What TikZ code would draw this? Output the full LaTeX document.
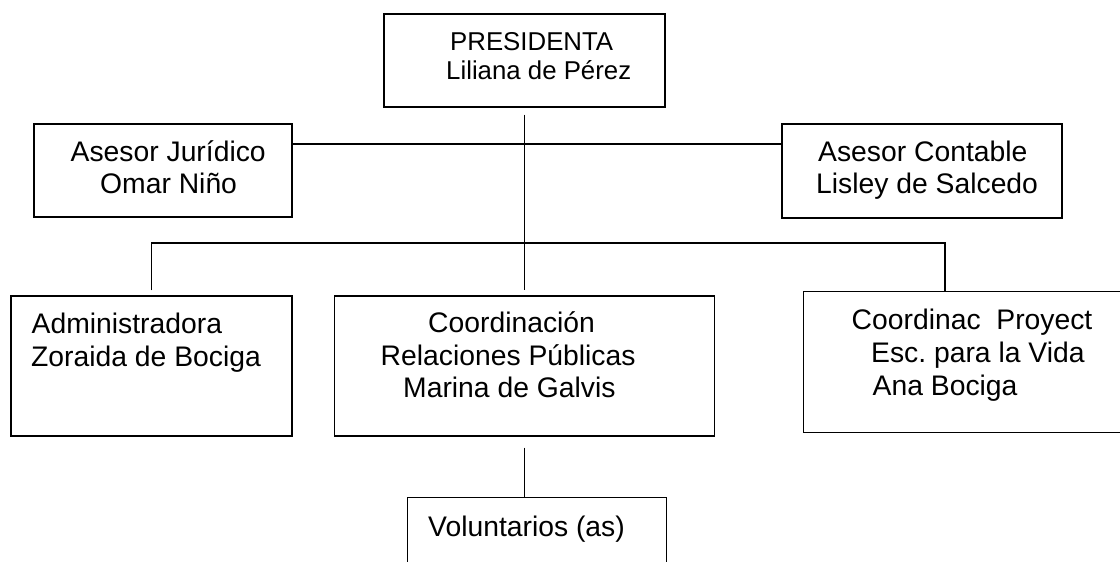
\documentclass[tikz,border=0pt]{standalone}
\usepackage{fontspec}
\setmainfont{Liberation Sans}
\frenchspacing
\newcommand{\mainsz}{\fontsize{28.3}{32.5}\selectfont}
\newcommand{\topsz}{\fontsize{25.8}{29}\selectfont}
\tikzset{
  orgbox/.style={draw, line width=1.3pt, rectangle, inner sep=0pt},
  openbox/.style={draw=none, rectangle, inner sep=0pt},
  txt/.style={anchor=base west, inner sep=0pt, font=\mainsz},
  toptxt/.style={anchor=base west, inner sep=0pt, font=\topsz},
  link/.style={line width=1.3pt}
}
\begin{document}
\begin{tikzpicture}[x=1pt, y=-1pt]
\useasboundingbox (0,0) rectangle (1120,562);

% boxes
\node[orgbox, minimum width=281pt, minimum height=93pt] (pres) at (524.5,60.5) {};
\node[orgbox, minimum width=258pt, minimum height=93pt] (ajur) at (163,170.5) {};
\node[orgbox, minimum width=280pt, minimum height=94pt] (acont) at (922,171) {};
\node[orgbox, minimum width=281pt, minimum height=140pt] (admin) at (151.5,366) {};
\node[orgbox, minimum width=380pt, minimum height=140pt] (coord) at (524.5,366) {};
\node[openbox, minimum width=326pt, minimum height=140pt] (proy) at (967,362) {};
\draw[link] (proy.north east) -- (proy.north west) -- (proy.south west) -- (proy.south east);
\node[openbox, minimum width=258pt, minimum height=72pt] (vol) at (537,534) {};
\draw[link] (vol.south west) -- (vol.north west) -- (vol.north east) -- (vol.south east);

% texts
\node[toptxt] (t1) at (450,50) {PRESIDENTA};
\node[toptxt] (t2) at (446,79) {Liliana de Pérez};
\node[txt] (t3) at (70.5,161) {Asesor Jurídico};
\node[txt] (t4) at (100,193) {Omar Niño};
\node[txt] (t5) at (818,161) {Asesor Contable};
\node[txt] (t6) at (816,193) {Lisley de Salcedo};
\node[txt] (t7) at (31.5,333) {Administradora};
\node[txt] (t8) at (31,366) {Zoraida de Bociga};
\node[txt] (t9) at (428,332) {Coordinación};
\node[txt] (t10) at (380.5,365) {Relaciones Públicas};
\node[txt] (t11) at (403,397) {Marina de Galvis};
\node[txt] (t12) at (851.5,329) {Coordinac\ \ Proyect};
\node[txt] (t13) at (871,362) {Esc. para la Vida};
\node[txt] (t14) at (872.5,395) {Ana Bociga};
\node[txt] (t15) at (428,536) {Voluntarios (as)};

% junctions
\coordinate (j1) at (524.5,144);
\coordinate (j2) at (524.5,243);
\coordinate (pj) at (945,243);

% connectors
\draw[link, shorten <=7pt, shorten >=5pt] (pres.south) -- (coord.north);
\draw[link] (ajur.east |- j1) -- (acont.west |- j1);
\draw[link, shorten <=5pt, shorten >=1pt] (admin.north) |- (j2) -- (pj) -- (pj |- proy.north);
\draw[link, shorten <=11pt] (coord.south) -- (coord.south |- vol.north);
\end{tikzpicture}
\end{document}
